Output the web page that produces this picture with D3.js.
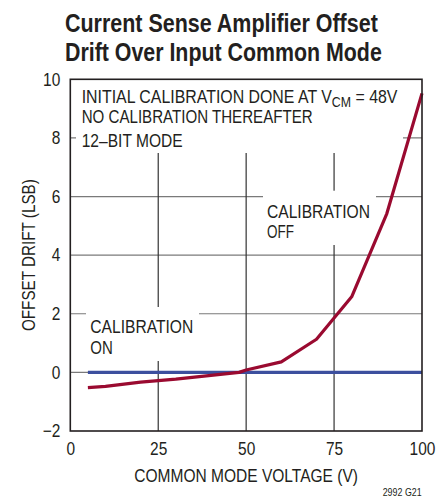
<!DOCTYPE html>
<html><head><meta charset="utf-8">
<script src="https://cdn.jsdelivr.net/npm/d3@7"></script>
<style>
body{margin:0;background:#fff;}
text{font-family:"Liberation Sans",Arial,sans-serif;fill:#231f20;}
</style></head><body>
<svg id="c" width="448" height="498"></svg>
<script>
const xTicks = [0, 25, 50, 75, 100];
const yTicks = [-2, 0, 2, 4, 6, 8, 10];
const yTickLabels = ["\u22122", "0", "2", "4", "6", "8", "10"];
const offX = [5, 10, 20, 30, 40, 48, 50, 60, 70, 80, 90, 100];
const offY = [-0.52, -0.48, -0.33, -0.23, -0.1, 0.0, 0.08, 0.36, 1.13, 2.58, 5.42, 9.52];
const onX = [5, 100];
const onY = [0, 0];

const svg = d3.select("#c");
const m = {l:70.3, r:422, t:79.3, b:431};
const x = d3.scaleLinear().domain([0,100]).range([m.l, m.r]);
const y = d3.scaleLinear().domain([-2,10]).range([m.b, m.t]);

// horizontally condense a text about its anchor x
function squeeze(sel, k) {
  sel.each(function(){
    const t = d3.select(this);
    const x0 = +t.attr("x") || 0;
    t.attr("transform", `translate(${x0*(1-k)},0) scale(${k},1)`);
  });
}
function fit(sel, target) {
  const L = sel.node().getComputedTextLength();
  squeeze(sel, target / L);
}

// grid
svg.append("g").selectAll("line").data(yTicks.filter(d=>d>-2&&d<10)).join("line")
  .attr("x1", m.l).attr("x2", m.r).attr("y1", d=>y(d)).attr("y2", d=>y(d))
  .attr("stroke", "#7a7a7a").attr("stroke-width", 1.2);
svg.append("g").selectAll("line").data(xTicks.filter(d=>d>0&&d<100)).join("line")
  .attr("y1", m.t).attr("y2", m.b).attr("x1", d=>x(d)).attr("x2", d=>x(d))
  .attr("stroke", "#333").attr("stroke-width", 1.2);

// masks behind annotations
const masks = [[76, 80, 327, 73], [263, 190.7, 113, 54.3], [86, 307, 113, 54]];
svg.append("g").selectAll("rect").data(masks).join("rect")
  .attr("x", d=>d[0]).attr("y", d=>d[1]).attr("width", d=>d[2]).attr("height", d=>d[3])
  .attr("fill", "#fff");

// series
const line = d3.line().x(d=>x(d[0])).y(d=>y(d[1]));
svg.append("path").datum(onX.map((v,i)=>[v,onY[i]])).attr("d", line)
  .attr("fill","none").attr("stroke","#3c4f9e").attr("stroke-width",3.2);
svg.append("path").datum(offX.map((v,i)=>[v,offY[i]])).attr("d", line)
  .attr("fill","none").attr("stroke","#9a0a30").attr("stroke-width",3.2).attr("stroke-linejoin","round");

// frame
svg.append("rect").attr("x", m.l).attr("y", m.t).attr("width", m.r-m.l).attr("height", m.b-m.t)
  .attr("fill","none").attr("stroke","#231f20").attr("stroke-width",1.6);

// axes labels via d3 axes
const xAxis = svg.append("g").attr("transform", `translate(0,${m.b})`)
  .call(d3.axisBottom(x).tickValues(xTicks).tickSize(0).tickPadding(11));
const yAxis = svg.append("g").attr("transform", `translate(${m.l},0)`)
  .call(d3.axisLeft(y).tickValues(yTicks).tickSize(0).tickPadding(10)
    .tickFormat(d=>yTickLabels[yTicks.indexOf(d)]));
[xAxis, yAxis].forEach(a=>{
  a.select(".domain").remove();
  a.selectAll("text").attr("font-size", 18).attr("font-family", null).attr("fill","#231f20");
  squeeze(a.selectAll("text"), 0.86);
});

// titles
fit(svg.append("text").attr("x", 65).attr("y", 32.3).attr("font-size", 26).attr("font-weight","bold")
  .text("Current Sense Amplifier Offset"), 313);
fit(svg.append("text").attr("x", 65).attr("y", 61).attr("font-size", 26).attr("font-weight","bold")
  .text("Drift Over Input Common Mode"), 317);

fit(svg.append("text").attr("x", x(50)).attr("y", 481.7).attr("text-anchor","middle").attr("font-size", 18)
  .text("COMMON MODE VOLTAGE (V)"), 224);
const yt = svg.append("text").attr("text-anchor","middle").attr("font-size", 18).text("OFFSET DRIFT (LSB)");
const yk = 152 / yt.node().getComputedTextLength();
yt.attr("transform", `translate(35,${(m.t+m.b)/2}) rotate(-90) scale(${yk},1)`);

// annotations
const t1 = svg.append("text").attr("x", 81.7).attr("y", 103.3).attr("font-size", 18);
t1.append("tspan").text("INITIAL CALIBRATION DONE AT V");
t1.append("tspan").attr("font-size", 14).attr("dy", 4).text("CM");
t1.append("tspan").attr("dy", -4).text(" = 48V");
fit(t1, 316);
fit(svg.append("text").attr("x", 81.7).attr("y", 123.3).attr("font-size", 18).text("NO CALIBRATION THEREAFTER"), 231);
fit(svg.append("text").attr("x", 81.7).attr("y", 146.7).attr("font-size", 18).text("12\u2013BIT MODE"), 101);

fit(svg.append("text").attr("x", 267).attr("y", 217.7).attr("font-size", 18).text("CALIBRATION"), 103);
fit(svg.append("text").attr("x", 267).attr("y", 238).attr("font-size", 18).text("OFF"), 27);
fit(svg.append("text").attr("x", 90.3).attr("y", 333.3).attr("font-size", 18).text("CALIBRATION"), 103);
fit(svg.append("text").attr("x", 90.3).attr("y", 354).attr("font-size", 18).text("ON"), 22.5);

fit(svg.append("text").attr("x", 382.7).attr("y", 496.5).attr("font-size", 11).text("2992 G21"), 39);
</script></body></html>
